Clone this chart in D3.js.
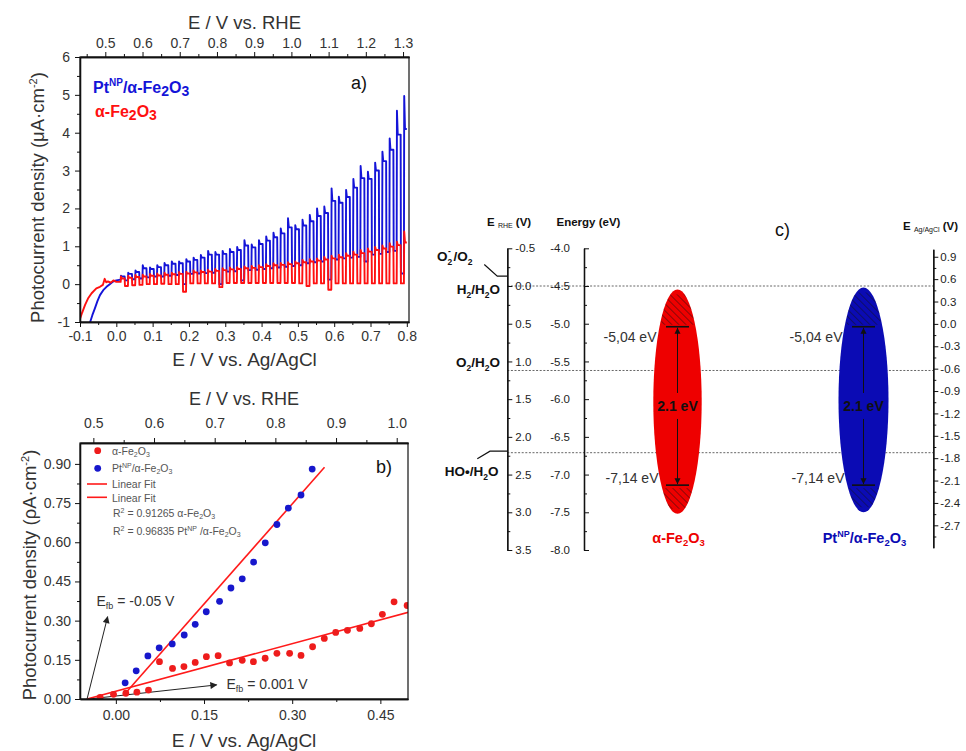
<!DOCTYPE html>
<html><head><meta charset="utf-8">
<script src="https://cdn.jsdelivr.net/npm/d3@7"></script>
<style>
body{margin:0;background:#fff}
svg{display:block;font-family:"Liberation Sans",Arial,Helvetica,sans-serif}
</style>
</head><body>
<svg id="fig" width="966" height="751"></svg>
<script>
// ---------------- DATA ----------------
// Panel a: chopped-light LSV
const aXTicks = [-0.1,0.0,0.1,0.2,0.3,0.4,0.5,0.6,0.7,0.8];
const aXMinor = [-0.05,0.05,0.15,0.25,0.35,0.45,0.55,0.65,0.75];
const aTopTicks = [0.5,0.6,0.7,0.8,0.9,1.0,1.1,1.2,1.3];
const aTopMinor = [0.45,0.55,0.65,0.75,0.85,0.95,1.05,1.15,1.25];
const aYTicks = [-1,0,1,2,3,4,5,6];
const aYMinor = [-0.5,0.5,1.5,2.5,3.5,4.5,5.5];

const redPreE = [-0.1,-0.094,-0.086,-0.078,-0.068,-0.055,-0.045,-0.037,-0.032,-0.028,-0.023,-0.015,-0.008,0.0,0.012];
const redPreJ = [-0.92,-0.75,-0.55,-0.38,-0.24,-0.11,-0.07,-0.02,0.14,0.05,0.07,0.04,0.10,0.06,0.06];
const bluePreE = [-0.076,-0.072,-0.066,-0.059,-0.052,-0.045,-0.036,-0.027,-0.018,-0.009,0.0,0.012];
const bluePreJ = [-1.2,-1.0,-0.82,-0.64,-0.45,-0.29,-0.16,-0.07,0.0,0.07,0.10,0.12];

const lightOnE = [0.012,0.032,0.052,0.072,0.092,0.112,0.132,0.152,0.172,0.192,0.212,0.232,0.252,0.272,0.292,0.312,0.332,0.352,0.372,0.392,0.412,0.432,0.452,0.472,0.492,0.512,0.532,0.552,0.572,0.592,0.612,0.632,0.652,0.672,0.692,0.712,0.732,0.752,0.772,0.792];
const lightWidth = 0.011;
const scanEndE = 0.8;

const bluePeak = [0.22,0.30,0.36,0.50,0.44,0.50,0.56,0.60,0.60,0.66,0.70,0.77,0.88,0.85,0.88,0.93,0.98,1.16,1.05,1.16,1.26,1.36,1.47,1.74,1.56,1.70,1.83,2.00,2.05,2.53,2.31,2.49,2.78,3.12,2.97,3.21,3.50,3.85,4.58,4.97];
const bluePlat = [0.20,0.27,0.32,0.42,0.40,0.45,0.50,0.54,0.55,0.60,0.64,0.70,0.78,0.78,0.80,0.85,0.90,1.02,0.97,1.06,1.15,1.24,1.34,1.50,1.45,1.55,1.66,1.80,1.88,2.20,2.15,2.30,2.55,2.80,2.78,3.00,3.25,3.55,3.95,4.10];
const blueDark = [0.10,0.13,0.15,0.18,0.20,0.20,0.22,0.24,0.00,0.27,0.28,0.29,0.30,0.00,0.33,0.34,0.10,0.37,0.38,0.40,0.42,0.44,0.46,0.48,0.50,0.55,0.58,0.60,0.12,0.65,0.68,0.70,0.72,0.60,0.78,0.80,0.85,0.88,0.28,0.90];

const redPeak = [0.20,0.22,0.24,0.25,0.27,0.28,0.30,0.30,0.32,0.33,0.36,0.36,0.38,0.40,0.42,0.44,0.45,0.47,0.48,0.50,0.53,0.55,0.56,0.58,0.60,0.64,0.66,0.68,0.72,0.75,0.78,0.82,0.86,0.90,0.94,0.98,1.02,1.08,1.12,1.39];
const redPlat = [0.15,0.17,0.19,0.20,0.22,0.23,0.25,0.26,0.27,0.28,0.31,0.32,0.33,0.35,0.37,0.39,0.40,0.42,0.43,0.45,0.48,0.50,0.51,0.53,0.55,0.58,0.60,0.62,0.65,0.68,0.71,0.75,0.78,0.82,0.86,0.90,0.94,0.99,1.03,1.10];
const redDark = [-0.05,-0.03,-0.02,0.00,0.00,0.01,0.00,0.00,-0.20,0.02,0.02,0.02,0.02,-0.08,0.03,0.03,0.03,0.03,0.03,0.03,0.03,0.03,0.03,0.03,0.02,-0.05,0.02,0.02,-0.15,0.02,0.02,0.02,0.02,0.02,0.02,0.02,0.02,0.02,0.02,0.02];

// Panel b
const bXTicks = [0.00,0.15,0.30,0.45];
const bXMinor = [0.075,0.225,0.375];
const bTopTicks = [0.5,0.6,0.7,0.8,0.9,1.0];
const bTopMinor = [0.55,0.65,0.75,0.85,0.95];
const bYTicks = [0.00,0.15,0.30,0.45,0.60,0.75,0.90];
const bYMinor = [0.075,0.225,0.375,0.525,0.675,0.825];

const ptE = [0.0158,0.0346,0.0545,0.0737,0.0959,0.1163,0.135,0.1538,0.1764,0.1958,0.215,0.2343,0.2542,0.274,0.2934,0.315,0.334,0.352];
const ptJ = [0.062,0.108,0.165,0.196,0.211,0.245,0.286,0.334,0.374,0.425,0.460,0.524,0.598,0.668,0.731,0.781,0.880,0.990];
const feE = [-0.0267,-0.004,0.017,0.0358,0.0555,0.0742,0.0964,0.1158,0.135,0.154,0.174,0.1934,0.215,0.234,0.254,0.274,0.2956,0.315,0.3347,0.3546,0.374,0.394,0.415,0.4347,0.4534,0.4733,0.4955];
const feJ = [0.0065,0.018,0.022,0.026,0.034,0.143,0.117,0.124,0.140,0.162,0.166,0.138,0.148,0.143,0.156,0.175,0.175,0.167,0.200,0.232,0.255,0.263,0.270,0.288,0.324,0.372,0.358];
const fitPtE = [0.0125,0.355];
const fitPtJ = [0.0127,0.887];
const fitFeE = [-0.049,0.498];
const fitFeJ = [0.000,0.332];
const efbArrowTipE = [-0.014,0.1715];
const efbArrowTipJ = [0.315,0.054];
const efbArrowBaseE = [-0.049,-0.046];

// Panel c
const rheTicks = [-0.5,0.0,0.5,1.0,1.5,2.0,2.5,3.0,3.5];
const rheMinor = [-0.25,0.25,0.75,1.25,1.75,2.25,2.75,3.25];
const energyTicks = [-4.0,-4.5,-5.0,-5.5,-6.0,-6.5,-7.0,-7.5,-8.0];
const energyMinor = [-4.25,-4.75,-5.25,-5.75,-6.25,-6.75,-7.25,-7.75];
const agTicks = [0.9,0.6,0.3,0.0,-0.3,-0.6,-0.9,-1.2,-1.5,-1.8,-2.1,-2.4,-2.7];
const agMinor = [0.75,0.45,0.15,-0.15,-0.45,-0.75,-1.05,-1.35,-1.65,-1.95,-2.25,-2.55,-2.85];
const redoxLevels = [-4.5,-5.62,-6.71];
const materials = ["α-Fe2O3","PtNP/α-Fe2O3"];
const ellipseTop = [-4.545,-4.52];
const ellipseBottom = [-7.52,-7.50];
const cbLevel = [-5.04,-5.04];
const vbLevel = [-7.14,-7.14];
const gapLabel = ["2.1 eV","2.1 eV"];
const cbLabel = ["-5,04 eV","-5,04 eV"];
const vbLabel = ["-7,14 eV","-7,14 eV"];
const matColor = ["#ee0000","#0b0bb4"];

// ---------------- DRAW ----------------
const svg = d3.select("#fig");
const FONT = '"Liberation Sans",Arial,Helvetica,sans-serif';
const defs = svg.append("defs");

function style(g, size, color){
  g.attr("font-family", FONT).attr("font-size", size);
  g.selectAll("text").attr("fill", color||"#222");
  g.selectAll("line").attr("stroke","#111");
  g.selectAll("path.domain").attr("stroke","#111");
}
const f1 = d => d.toFixed(1);
const f2 = d => d.toFixed(2);

// ===== Panel a =====
const aL=80, aR=409, aT=57, aB=322;
const aX = d3.scaleLinear().domain([-0.1,0.806]).range([aL,aR]);
const aXTop = d3.scaleLinear().domain([0.432,1.316]).range([aL,aR]);
const aY = d3.scaleLinear().domain([-1,6]).range([aB,aT]);

defs.append("clipPath").attr("id","clipA").append("rect")
  .attr("x",aL).attr("y",aT).attr("width",aR-aL).attr("height",aB-aT);

function train(preE, preJ, peak, plat, dark){
  const pts = preE.map((e,i)=>[e,preJ[i]]);
  lightOnE.forEach((e0,k)=>{
    const off = Math.min(e0+lightWidth, scanEndE);
    pts.push([e0, pts[pts.length-1][1]]);
    pts.push([e0+0.0008, peak[k]]);
    pts.push([Math.min(e0+0.003,off), plat[k]]);
    pts.push([off, plat[k]]);
    if (off < scanEndE) pts.push([off+0.0008, dark[k]]);
  });
  return pts;
}
const lineA = d3.line().x(d=>aX(d[0])).y(d=>aY(d[1]));
const gA = svg.append("g").attr("clip-path","url(#clipA)");
gA.append("path").datum(train(bluePreE,bluePreJ,bluePeak,bluePlat,blueDark))
  .attr("d",lineA).attr("fill","none").attr("stroke","#1414d8").attr("stroke-width",1.9).attr("stroke-linejoin","round");
gA.append("path").datum(train(redPreE,redPreJ,redPeak,redPlat,redDark))
  .attr("d",lineA).attr("fill","none").attr("stroke","#ff1010").attr("stroke-width",1.9).attr("stroke-linejoin","round");

svg.append("rect").attr("x",aL).attr("y",aT).attr("width",aR-aL).attr("height",aB-aT)
  .attr("fill","none").attr("stroke","#111").attr("stroke-width",1.2);
let g;
g = svg.append("g").attr("transform",`translate(0,${aB})`)
  .call(d3.axisBottom(aX).tickValues(aXTicks).tickFormat(f1).tickSize(5).tickSizeOuter(0).tickPadding(4));
style(g,14,"#333");
g = svg.append("g").attr("transform",`translate(0,${aB})`)
  .call(d3.axisBottom(aX).tickValues(aXMinor).tickFormat("").tickSize(3).tickSizeOuter(0));
style(g,14);
g = svg.append("g").attr("transform",`translate(0,${aT})`)
  .call(d3.axisTop(aXTop).tickValues(aTopTicks).tickFormat(f1).tickSize(5).tickSizeOuter(0).tickPadding(4));
style(g,14,"#333");
g = svg.append("g").attr("transform",`translate(0,${aT})`)
  .call(d3.axisTop(aXTop).tickValues(aTopMinor).tickFormat("").tickSize(3).tickSizeOuter(0));
style(g,14);
g = svg.append("g").attr("transform",`translate(${aL},0)`)
  .call(d3.axisLeft(aY).tickValues(aYTicks).tickFormat(d=>String(d)).tickSize(5).tickSizeOuter(0).tickPadding(5));
style(g,14,"#333");
g = svg.append("g").attr("transform",`translate(${aL},0)`)
  .call(d3.axisLeft(aY).tickValues(aYMinor).tickFormat("").tickSize(3).tickSizeOuter(0));
style(g,14);

svg.append("text").attr("x",(aL+aR)/2).attr("y",29).attr("text-anchor","middle")
  .attr("font-size",18.5).attr("fill","#333").text("E / V vs. RHE");
svg.append("text").attr("x",(aL+aR)/2).attr("y",366).attr("text-anchor","middle")
  .attr("font-size",19).attr("fill","#333").text("E / V vs. Ag/AgCl");
{
  const t = svg.append("text").attr("transform",`translate(44,${(aT+aB)/2+8}) rotate(-90)`)
    .attr("text-anchor","middle").attr("font-size",18.5).attr("fill","#333");
  t.append("tspan").text("Photocurrent density (μA·cm");
  t.append("tspan").attr("font-size",11).attr("dy",-7).text("-2");
  t.append("tspan").attr("dy",7).text(")");
}
{
  const t = svg.append("text").attr("x",93).attr("y",93).attr("font-size",16).attr("font-weight","bold").attr("fill","#1414d8");
  t.append("tspan").text("Pt");
  t.append("tspan").attr("font-size",10).attr("dy",-7).text("NP");
  t.append("tspan").attr("dy",7).text("/α-Fe");
  t.append("tspan").attr("font-size",14).attr("dy",3).text("2");
  t.append("tspan").attr("dy",-3).text("O");
  t.append("tspan").attr("font-size",14).attr("dy",3).text("3");
  const r = svg.append("text").attr("x",95).attr("y",117).attr("font-size",16).attr("font-weight","bold").attr("fill","#ff1010");
  r.append("tspan").text("α-Fe");
  r.append("tspan").attr("font-size",14).attr("dy",3).text("2");
  r.append("tspan").attr("dy",-3).text("O");
  r.append("tspan").attr("font-size",14).attr("dy",3).text("3");
}
svg.append("text").attr("x",351).attr("y",89).attr("font-size",18).attr("fill","#111").text("a)");

// ===== Panel b =====
const bL=80, bR=408, bT=443, bB=699;
const bX = d3.scaleLinear().domain([-0.061,0.497]).range([bL,bR]);
const bXTop = d3.scaleLinear().domain([0.478,1.0186]).range([bL,bR]);
const bY = d3.scaleLinear().domain([0,0.98]).range([bB,bT]);
defs.append("clipPath").attr("id","clipB").append("rect")
  .attr("x",bL).attr("y",bT).attr("width",bR-bL).attr("height",bB-bT);
defs.append("marker").attr("id","arrK").attr("viewBox","0 0 10 10").attr("refX",9).attr("refY",5)
  .attr("markerWidth",8).attr("markerHeight",7).attr("markerUnits","userSpaceOnUse").attr("orient","auto")
  .append("path").attr("d","M0,0 L10,5 L0,10 z").attr("fill","#222");

const gB = svg.append("g").attr("clip-path","url(#clipB)");
efbArrowTipE.forEach((e,i)=>{
  gB.append("line").attr("x1",bX(efbArrowBaseE[i])).attr("y1",bY(0))
    .attr("x2",bX(e)).attr("y2",bY(efbArrowTipJ[i]))
    .attr("stroke","#222").attr("stroke-width",1).attr("marker-end","url(#arrK)");
});
gB.append("line").attr("x1",bX(fitFeE[0])).attr("y1",bY(fitFeJ[0])).attr("x2",bX(fitFeE[1])).attr("y2",bY(fitFeJ[1]))
  .attr("stroke","#ff1a1a").attr("stroke-width",1.6);
gB.append("line").attr("x1",bX(fitPtE[0])).attr("y1",bY(fitPtJ[0])).attr("x2",bX(fitPtE[1])).attr("y2",bY(fitPtJ[1]))
  .attr("stroke","#ff1a1a").attr("stroke-width",1.6);
gB.selectAll("circle.fe").data(feE).join("circle").attr("class","fe")
  .attr("cx",d=>bX(d)).attr("cy",(d,i)=>bY(feJ[i])).attr("r",3.4).attr("fill","#ee1c1c");
gB.selectAll("circle.pt").data(ptE).join("circle").attr("class","pt")
  .attr("cx",d=>bX(d)).attr("cy",(d,i)=>bY(ptJ[i])).attr("r",3.4).attr("fill","#1717cc");

svg.append("rect").attr("x",bL).attr("y",bT).attr("width",bR-bL).attr("height",bB-bT)
  .attr("fill","none").attr("stroke","#111").attr("stroke-width",1.2);
g = svg.append("g").attr("transform",`translate(0,${bB})`)
  .call(d3.axisBottom(bX).tickValues(bXTicks).tickFormat(f2).tickSize(5).tickSizeOuter(0).tickPadding(6));
style(g,14,"#333");
g = svg.append("g").attr("transform",`translate(0,${bB})`)
  .call(d3.axisBottom(bX).tickValues(bXMinor).tickFormat("").tickSize(3).tickSizeOuter(0));
style(g,14);
g = svg.append("g").attr("transform",`translate(0,${bT})`)
  .call(d3.axisTop(bXTop).tickValues(bTopTicks).tickFormat(f1).tickSize(5).tickSizeOuter(0).tickPadding(10));
style(g,14,"#333");
g = svg.append("g").attr("transform",`translate(0,${bT})`)
  .call(d3.axisTop(bXTop).tickValues(bTopMinor).tickFormat("").tickSize(3).tickSizeOuter(0));
style(g,14);
g = svg.append("g").attr("transform",`translate(${bL},0)`)
  .call(d3.axisLeft(bY).tickValues(bYTicks).tickFormat(f2).tickSize(5).tickSizeOuter(0).tickPadding(4));
style(g,14,"#333");
g = svg.append("g").attr("transform",`translate(${bL},0)`)
  .call(d3.axisLeft(bY).tickValues(bYMinor).tickFormat("").tickSize(3).tickSizeOuter(0));
style(g,14);

svg.append("text").attr("x",(bL+bR)/2).attr("y",405).attr("text-anchor","middle")
  .attr("font-size",18).attr("fill","#333").text("E / V vs. RHE");
svg.append("text").attr("x",(bL+bR)/2).attr("y",747).attr("text-anchor","middle")
  .attr("font-size",19).attr("fill","#333").text("E / V vs. Ag/AgCl");
{
  const t = svg.append("text").attr("transform",`translate(36,${(bT+bB)/2+4}) rotate(-90)`)
    .attr("text-anchor","middle").attr("font-size",18.5).attr("fill","#333");
  t.append("tspan").text("Photocurrent density (ρA·cm");
  t.append("tspan").attr("font-size",11).attr("dy",-7).text("-2");
  t.append("tspan").attr("dy",7).text(")");
}
{
  const lg = svg.append("g").attr("font-size",10.5).attr("fill","#555");
  lg.append("circle").attr("cx",97.7).attr("cy",450.7).attr("r",3.4).attr("fill","#ee1c1c");
  lg.append("circle").attr("cx",97.7).attr("cy",468.3).attr("r",3.4).attr("fill","#1717cc");
  lg.append("line").attr("x1",87).attr("x2",107).attr("y1",484).attr("y2",484).attr("stroke","#ff1a1a").attr("stroke-width",1.6);
  lg.append("line").attr("x1",87).attr("x2",107).attr("y1",497.3).attr("y2",497.3).attr("stroke","#ff1a1a").attr("stroke-width",1.6);
  function fe(t){ t.append("tspan").text("α-Fe"); t.append("tspan").attr("font-size",7).attr("dy",2).text("2");
    t.append("tspan").attr("dy",-2).text("O"); t.append("tspan").attr("font-size",7).attr("dy",2).text("3"); }
  let t = lg.append("text").attr("x",112).attr("y",454.5); fe(t);
  t = lg.append("text").attr("x",112).attr("y",472); t.append("tspan").text("Pt");
  t.append("tspan").attr("font-size",7).attr("dy",-4).text("NP"); t.append("tspan").attr("dy",4).text("/"); fe(t);
  lg.append("text").attr("x",112).attr("y",488).text("Linear Fit");
  lg.append("text").attr("x",112).attr("y",501.5).text("Linear Fit");
  t = lg.append("text").attr("x",113).attr("y",517); t.append("tspan").text("R");
  t.append("tspan").attr("font-size",7).attr("dy",-4).text("2"); t.append("tspan").attr("dy",4).text(" = 0.91265 "); fe(t);
  t = lg.append("text").attr("x",113).attr("y",534.5); t.append("tspan").text("R");
  t.append("tspan").attr("font-size",7).attr("dy",-4).text("2"); t.append("tspan").attr("dy",4).text(" = 0.96835 Pt");
  t.append("tspan").attr("font-size",7).attr("dy",-4).text("NP"); t.append("tspan").attr("dy",4).text(" /"); fe(t);
}
{
  let t = svg.append("text").attr("x",96.5).attr("y",606).attr("font-size",14).attr("fill","#333");
  t.append("tspan").text("E"); t.append("tspan").attr("font-size",9).attr("dy",3).text("fb");
  t.append("tspan").attr("dy",-3).text(" = -0.05 V");
  t = svg.append("text").attr("x",226.5).attr("y",689).attr("font-size",14).attr("fill","#333");
  t.append("tspan").text("E"); t.append("tspan").attr("font-size",9).attr("dy",3).text("fb");
  t.append("tspan").attr("dy",-3).text(" = 0.001 V");
}
svg.append("text").attr("x",376).attr("y",473).attr("font-size",18).attr("fill","#111").text("b)");

// ===== Panel c =====
const cT=248.3, cB=550;
const yE = d3.scaleLinear().domain([-4,-8]).range([cT,cB]);
const yRHE = d3.scaleLinear().domain([-0.5,3.5]).range([cT,cB]);
const yAg = d3.scaleLinear().domain([1.0,-3.0]).range([249.3,547.7]);
const xRHEaxis=507.3, xEaxis=584, xAgaxis=933.3;
const xMat = d3.scalePoint().domain(materials).range([677.5,863.5]);
const rxMat = [24.2,25];

svg.selectAll("line.redox").data(redoxLevels).join("line").attr("class","redox")
  .attr("x1",xRHEaxis).attr("x2",xAgaxis).attr("y1",d=>yE(d)).attr("y2",d=>yE(d))
  .attr("stroke","#555").attr("stroke-width",0.9).attr("stroke-dasharray","2,1.6");

g = svg.append("g").attr("transform",`translate(${xRHEaxis},0)`)
  .call(d3.axisRight(yRHE).tickValues(rheTicks).tickFormat(f1).tickSize(5).tickSizeOuter(0).tickPadding(3));
style(g,11.5,"#222");
g = svg.append("g").attr("transform",`translate(${xRHEaxis},0)`)
  .call(d3.axisRight(yRHE).tickValues(rheMinor).tickFormat("").tickSize(3).tickSizeOuter(0));
style(g,11);
g = svg.append("g").attr("transform",`translate(${xEaxis},0)`)
  .call(d3.axisLeft(yE).tickValues(energyTicks).tickFormat(f1).tickSizeInner(-5).tickSizeOuter(0).tickPadding(14));
style(g,11.5,"#222");
g = svg.append("g").attr("transform",`translate(${xEaxis},0)`)
  .call(d3.axisLeft(yE).tickValues(energyMinor).tickFormat("").tickSizeInner(-3).tickSizeOuter(0));
style(g,11);
g = svg.append("g").attr("transform",`translate(${xAgaxis},0)`)
  .call(d3.axisRight(yAg).tickValues(agTicks).tickFormat(f1).tickSize(5).tickSizeOuter(0).tickPadding(2));
style(g,11.5,"#222");
g = svg.append("g").attr("transform",`translate(${xAgaxis},0)`)
  .call(d3.axisRight(yAg).tickValues(agMinor).tickFormat("").tickSize(3).tickSizeOuter(0));
style(g,11);
svg.selectAll("path.domain").attr("stroke-width",1.3);

{
  let t = svg.append("text").attr("x",487).attr("y",226).attr("font-size",11.5).attr("font-weight","bold").attr("fill","#111");
  t.append("tspan").text("E "); t.append("tspan").attr("font-size",7).attr("font-weight","normal").attr("dy",2).text("RHE");
  t.append("tspan").attr("dy",-2).text(" (V)");
  svg.append("text").attr("x",556.5).attr("y",226).attr("font-size",11.5).attr("font-weight","bold").attr("fill","#111").text("Energy (eV)");
  t = svg.append("text").attr("x",903).attr("y",230).attr("font-size",11.5).attr("font-weight","bold").attr("fill","#111");
  t.append("tspan").text("E "); t.append("tspan").attr("font-size",7).attr("font-weight","normal").attr("dy",2).text("Ag/AgCl");
  t.append("tspan").attr("dy",-2).text(" (V)");
  svg.append("text").attr("x",775).attr("y",236).attr("font-size",18).attr("fill","#111").text("c)");
}
{
  const lab = svg.append("g").attr("font-size",13.5).attr("font-weight","bold").attr("fill","#111");
  // O2-/O2 : stacked superscript and subscript as separate texts
  lab.append("text").attr("x",437).attr("y",261).text("O");
  lab.append("text").attr("x",448).attr("y",253.5).attr("font-size",8.5).text("-");
  lab.append("text").attr("x",447.5).attr("y",265).attr("font-size",8.5).text("2");
  const t0 = lab.append("text").attr("x",453.5).attr("y",261);
  t0.append("tspan").text("/O"); t0.append("tspan").attr("font-size",8.5).attr("dy",4).text("2");
  function h2o(t){ t.append("tspan").attr("dy",-4).text("/H"); t.append("tspan").attr("font-size",8.5).attr("dy",4).text("2"); t.append("tspan").attr("dy",-4).text("O"); }
  let t = lab.append("text").attr("x",500).attr("y",yE(redoxLevels[0])+8).attr("text-anchor","end");
  t.append("tspan").text("H"); t.append("tspan").attr("font-size",8.5).attr("dy",4).text("2"); h2o(t);
  t = lab.append("text").attr("x",500).attr("y",367).attr("text-anchor","end");
  t.append("tspan").text("O"); t.append("tspan").attr("font-size",8.5).attr("dy",4).text("2"); h2o(t);
  t = lab.append("text").attr("x",498.5).attr("y",476).attr("text-anchor","end");
  t.append("tspan").text("HO•/H"); t.append("tspan").attr("font-size",8.5).attr("dy",4).text("2"); t.append("tspan").attr("dy",-4).text("O");
  const conn = d3.line().x(d=>d[0]).y(d=>yRHE(d[1]));
  svg.append("path").attr("d",conn([[484.3,-0.285],[497.3,-0.13],[xRHEaxis,-0.13]])).attr("fill","none").attr("stroke","#111").attr("stroke-width",1.2);
  svg.append("path").attr("d",conn([[477.3,2.29],[490,2.19],[xRHEaxis,2.19]])).attr("fill","none").attr("stroke","#111").attr("stroke-width",1.2);
}
defs.append("pattern").attr("id","hatch").attr("patternUnits","userSpaceOnUse").attr("width",5).attr("height",5)
  .attr("patternTransform","rotate(-45)")
  .append("line").attr("x1",0).attr("y1",0).attr("x2",0).attr("y2",5).attr("stroke","#111").attr("stroke-width",0.9);
defs.append("marker").attr("id","arrC").attr("viewBox","0 0 10 10").attr("refX",10).attr("refY",5)
  .attr("markerWidth",6).attr("markerHeight",7).attr("markerUnits","userSpaceOnUse").attr("orient","auto")
  .append("path").attr("d","M0,0 L10,5 L0,10 z").attr("fill","#111");

materials.forEach((m,i)=>{
  const cx = xMat(m), cy = (yE(ellipseTop[i])+yE(ellipseBottom[i]))/2, ry = (yE(ellipseBottom[i])-yE(ellipseTop[i]))/2;
  const cid = "ell"+i;
  defs.append("clipPath").attr("id",cid).append("ellipse").attr("cx",cx).attr("cy",cy).attr("rx",rxMat[i]).attr("ry",ry);
  svg.append("ellipse").attr("cx",cx).attr("cy",cy).attr("rx",rxMat[i]).attr("ry",ry).attr("fill",matColor[i]);
  const hg = svg.append("g").attr("clip-path",`url(#${cid})`);
  hg.append("rect").attr("x",cx-rxMat[i]+8).attr("y",yE(ellipseTop[i])+5).attr("width",2*rxMat[i]-16)
    .attr("height",yE(cbLevel[i])-yE(ellipseTop[i])-7).attr("fill","url(#hatch)");
  hg.append("rect").attr("x",cx-rxMat[i]+8).attr("y",yE(vbLevel[i])+3).attr("width",2*rxMat[i]-16)
    .attr("height",yE(ellipseBottom[i])-yE(vbLevel[i])-8).attr("fill","url(#hatch)");
  [cbLevel[i],vbLevel[i]].forEach(v=>{
    svg.append("line").attr("x1",cx-11.5).attr("x2",cx+11.5).attr("y1",yE(v)).attr("y2",yE(v)).attr("stroke","#111").attr("stroke-width",1.6);
  });
  const mid = (cbLevel[i]+vbLevel[i])/2;
  svg.append("line").attr("x1",cx).attr("x2",cx).attr("y1",yE(mid)-13).attr("y2",yE(cbLevel[i])+1)
    .attr("stroke","#111").attr("stroke-width",1).attr("marker-end","url(#arrC)");
  svg.append("line").attr("x1",cx).attr("x2",cx).attr("y1",yE(mid)+13).attr("y2",yE(vbLevel[i])-1)
    .attr("stroke","#111").attr("stroke-width",1).attr("marker-end","url(#arrC)");
  svg.append("text").attr("x",cx).attr("y",yE(mid)+5).attr("text-anchor","middle").attr("font-size",14)
    .attr("font-weight","bold").attr("fill","#111").text(gapLabel[i]);
  svg.append("text").attr("x",cx-21).attr("y",yE(cbLevel[i])+15).attr("text-anchor","end").attr("font-size",14)
    .attr("fill","#333").text(cbLabel[i]);
  svg.append("text").attr("x",cx-19).attr("y",yE(vbLevel[i])-2).attr("text-anchor","end").attr("font-size",14)
    .attr("fill","#333").text(vbLabel[i]);
  const t = svg.append("text").attr("x",cx+1).attr("y",543).attr("text-anchor","middle").attr("font-size",14.5)
    .attr("font-weight","bold").attr("fill",matColor[i]);
  if (i===1){ t.append("tspan").text("Pt"); t.append("tspan").attr("font-size",9).attr("dy",-6).text("NP"); t.append("tspan").attr("dy",6).text("/"); }
  t.append("tspan").text("α-Fe"); t.append("tspan").attr("font-size",9.5).attr("dy",3).text("2");
  t.append("tspan").attr("dy",-3).text("O"); t.append("tspan").attr("font-size",9.5).attr("dy",3).text("3");
});
</script>
</body></html>
